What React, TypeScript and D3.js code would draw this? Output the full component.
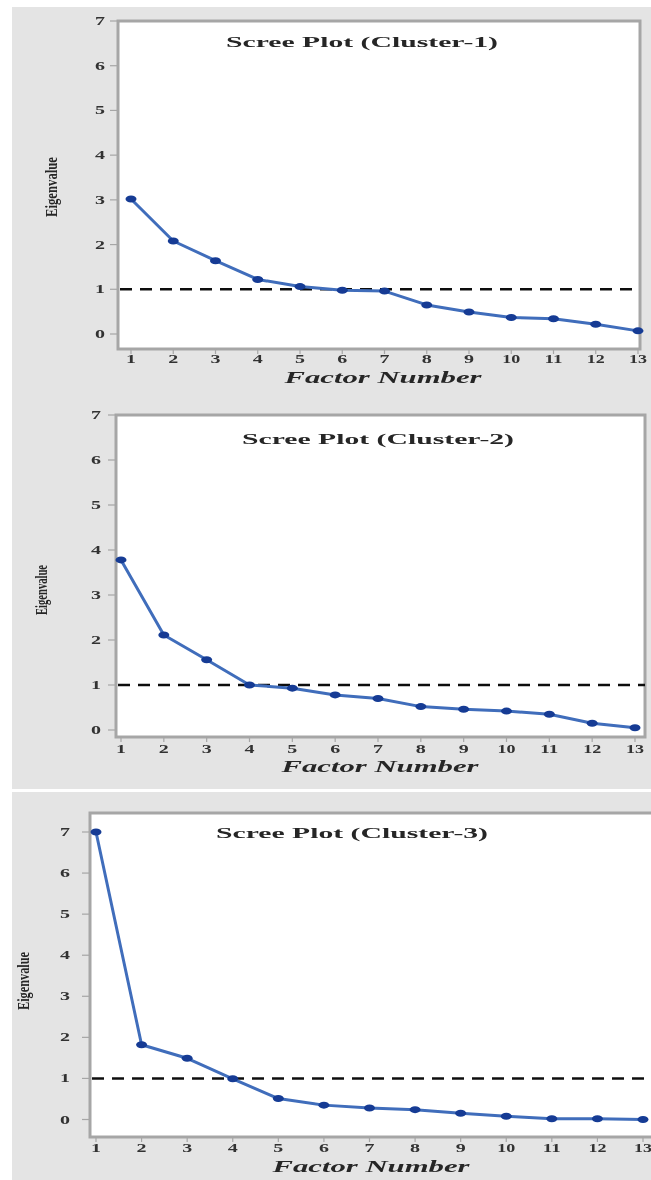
import React from "react";
import * as d3 from "d3";

// eigenvalues
const FACTORS = [1, 2, 3, 4, 5, 6, 7, 8, 9, 10, 11, 12, 13];
const CLUSTER_1 = [3.02, 2.08, 1.64, 1.22, 1.06, 0.98, 0.96, 0.65, 0.49, 0.37, 0.34, 0.22, 0.07];
const CLUSTER_2 = [3.78, 2.11, 1.56, 1.0, 0.93, 0.78, 0.7, 0.52, 0.46, 0.42, 0.35, 0.15, 0.05];
const CLUSTER_3 = [7.0, 1.82, 1.49, 0.99, 0.51, 0.35, 0.28, 0.24, 0.15, 0.08, 0.02, 0.02, 0.0];
const Y_TICKS = [0, 1, 2, 3, 4, 5, 6, 7];
const TITLES = ["Scree Plot (Cluster-1)", "Scree Plot (Cluster-2)", "Scree Plot (Cluster-3)"];
const X_LABEL = "Factor Number";
const Y_LABEL = "Eigenvalue";
const CUTOFF = 1;

const SERIES = [CLUSTER_1, CLUSTER_2, CLUSTER_3];

// panel geometry (pixels)
const PANELS = [
  { left: 118, right: 640, top: 21, bottom: 349, x1: 131, x13: 638, y0: 334, y7: 21,
    title: [362, 47], xlab: [383, 383], ylab: [51, 187], ylabLen: 60, tickX: 100, tickY: 363 },
  { left: 116, right: 645, top: 415, bottom: 737, x1: 121, x13: 635, y0: 730, y7: 415,
    title: [378, 444], xlab: [380, 772], ylab: [41, 590], ylabLen: 50, tickX: 96, tickY: 753 },
  { left: 90, right: 700, top: 813, bottom: 1137, x1: 96, x13: 643, y0: 1119.5, y7: 832,
    title: [352, 838], xlab: [371, 1172], ylab: [23, 981], ylabLen: 58, tickX: 65, tickY: 1152 },
];

const FONT = "'Liberation Serif', 'DejaVu Serif', serif";
const LINE = "#3f6dbb";
const DOT = "#123a94";
const FRAME = "#a6a6a6";

function Panel({ p, values, title }) {
  const x = d3.scaleLinear().domain([1, 13]).range([p.x1, p.x13]);
  const y = d3.scaleLinear().domain([0, 7]).range([p.y0, p.y7]);
  const pts = FACTORS.map((f, i) => [f, values[i]]);
  const line = d3.line().x((d) => x(d[0])).y((d) => y(d[1]));

  return (
    <g>
      <rect x={p.left} y={p.top} width={p.right - p.left} height={p.bottom - p.top}
        fill="#fff" stroke={FRAME} strokeWidth={3} />
      <text x={p.title[0]} y={p.title[1]} textAnchor="middle" fontFamily={FONT} fontWeight="bold"
        fontSize={15} fill="#262626" textLength={272} lengthAdjust="spacingAndGlyphs">{title}</text>

      {Y_TICKS.map((t) => (
        <g key={t}>
          <line x1={p.left - 8} x2={p.left} y1={y(t)} y2={y(t)} stroke={FRAME} strokeWidth={1.2} />
          <text x={p.tickX} y={y(t) + 4} textAnchor="middle" fontFamily={FONT} fontWeight="bold"
            fontSize={12} fill="#333" textLength={10} lengthAdjust="spacingAndGlyphs">{t}</text>
        </g>
      ))}
      {FACTORS.map((f) => (
        <g key={f}>
          <line x1={x(f)} x2={x(f)} y1={p.bottom} y2={p.bottom + 5} stroke={FRAME} strokeWidth={1.2} />
          <text x={x(f)} y={p.tickY} textAnchor="middle" fontFamily={FONT} fontWeight="bold"
            fontSize={12} fill="#333" textLength={f >= 10 ? 18 : 10}
            lengthAdjust="spacingAndGlyphs">{f}</text>
        </g>
      ))}

      <line x1={p.left + 2} x2={Math.min(p.right, 651)} y1={y(CUTOFF)} y2={y(CUTOFF)}
        stroke="#111" strokeWidth={2.5} strokeDasharray="12,8" />

      <path d={line(pts)} fill="none" stroke={LINE} strokeWidth={3} strokeLinejoin="round" />
      {pts.map((d) => (
        <ellipse key={d[0]} cx={x(d[0])} cy={y(d[1])} rx={5.5} ry={3.5} fill={DOT} />
      ))}

      <text x={p.xlab[0]} y={p.xlab[1]} textAnchor="middle" fontFamily={FONT} fontWeight="bold"
        fontStyle="italic" fontSize={16} fill="#262626" textLength={197}
        lengthAdjust="spacingAndGlyphs">{X_LABEL}</text>
      <text transform={`translate(${p.ylab[0] + 6},${p.ylab[1]}) rotate(-90)`} textAnchor="middle"
        fontFamily={FONT} fontWeight="bold" fontSize={16} fill="#262626" textLength={p.ylabLen}
        lengthAdjust="spacingAndGlyphs">{Y_LABEL}</text>
    </g>
  );
}

export default function App() {
  return (
    <svg width={651} height={1180} style={{ position: "absolute", left: 0, top: 0, display: "block" }}>
      <defs>
        <filter id="soft" x="0" y="0" width="1" height="1">
          <feGaussianBlur stdDeviation="0.55" />
        </filter>
        <clipPath id="page">
          <rect x={0} y={0} width={651} height={1180} />
        </clipPath>
      </defs>
      <rect width={651} height={1180} fill="#fff" />
      <g filter="url(#soft)" clipPath="url(#page)">
        <rect x={12} y={7} width={639} height={782} fill="#e4e4e4" />
        <rect x={12} y={792} width={639} height={388} fill="#e4e4e4" />
        {PANELS.map((p, i) => (
          <Panel key={i} p={p} values={SERIES[i]} title={TITLES[i]} />
        ))}
      </g>
    </svg>
  );
}
